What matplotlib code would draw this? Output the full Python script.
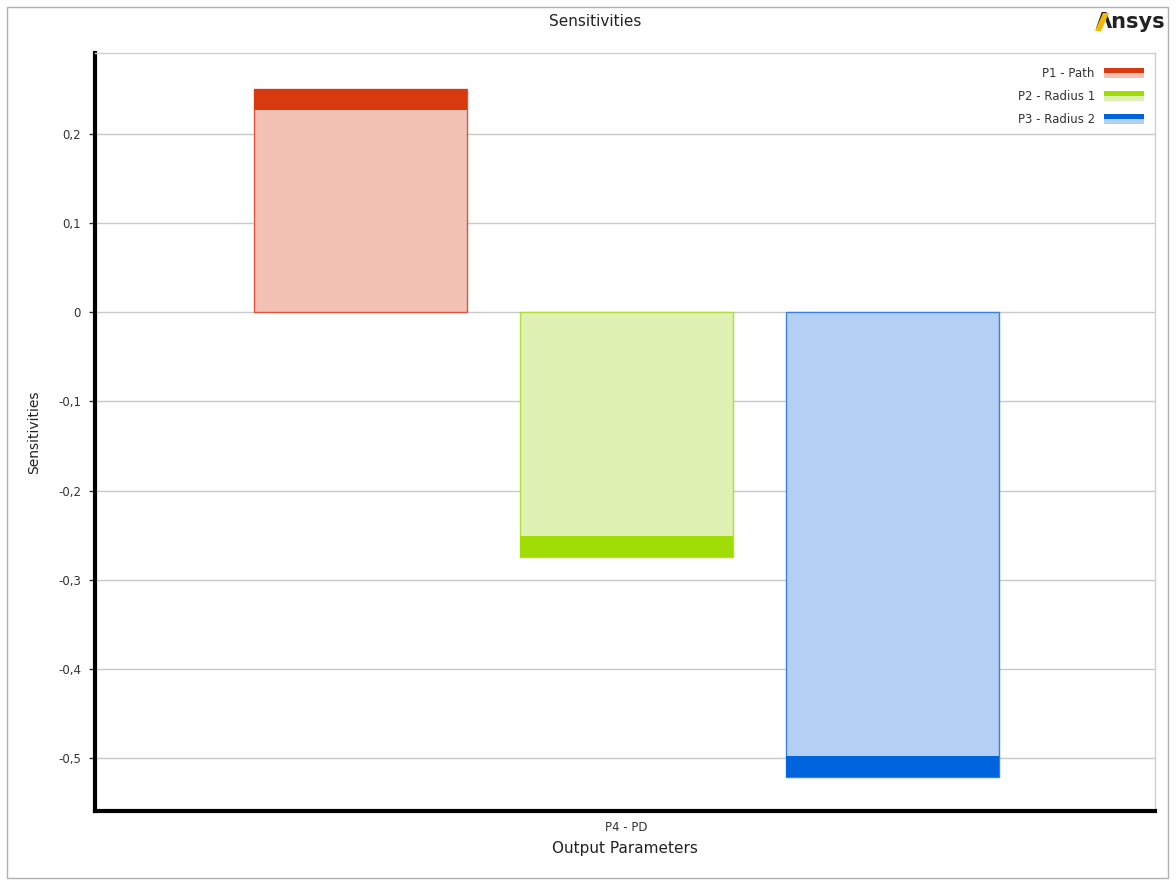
import matplotlib
matplotlib.use('Agg')
import matplotlib.pyplot as plt
from matplotlib.patches import Rectangle, Polygon
from matplotlib.legend_handler import HandlerBase
from matplotlib.ticker import FuncFormatter

# Data
parameters = ['P1 - Path', 'P2 - Radius 1', 'P3 - Radius 2']
sensitivities = [0.251, -0.275, -0.521]
output_param = 'P4 - PD'

dark_colors = ['#d9390f', '#9fdc04', '#0064dc']
light_colors = ['#f2c3b5', '#dff1b3', '#b3cff3']
edge_colors = ['#e2523a', '#b0df3a', '#3a80da']


class CapHandler(HandlerBase):
	# legend swatch: dark strip on top of a light strip
	def __init__(self, dark, light):
		super().__init__()
		self.dark = dark
		self.light = light

	def create_artists(self, legend, orig_handle, xdescent, ydescent,
					   width, height, fontsize, trans):
		h = height * 0.5
		y0 = height / 2 - h
		light = Rectangle((-xdescent, y0 - ydescent), width, h,
						  facecolor=self.light, edgecolor='none', transform=trans)
		dark = Rectangle((-xdescent, y0 + h - ydescent), width, h * 0.85,
						 facecolor=self.dark, edgecolor='none', transform=trans)
		return [light, dark]


fig = plt.figure(figsize=(11.76, 8.81), dpi=100)
ax = fig.add_axes([95/1176, 1 - 811/881, 1060/1176, 758/881])

cap = 0.0235
xpos = [-1, 0, 1]
width = 0.8
handles = []
for i, val in enumerate(sensitivities):
	ax.bar(xpos[i], val, width=width, color=light_colors[i],
		   edgecolor=edge_colors[i], linewidth=1, zorder=2)
	sign = 1 if val > 0 else -1
	ax.bar(xpos[i], sign * cap, bottom=val - sign * cap, width=width,
		   color=dark_colors[i], edgecolor='none', zorder=3)
	handles.append(Rectangle((0, 0), 1, 1))

ax.set_xlim(-1.996, 1.984)
ax.set_ylim(-0.5596, 0.291)
ax.set_xticks([0])
ax.set_xticklabels([output_param])
ax.set_yticks([-0.5, -0.4, -0.3, -0.2, -0.1, 0, 0.1, 0.2])
ax.yaxis.set_major_formatter(FuncFormatter(
	lambda v, p: '0' if abs(v) < 1e-9 else f'{v:.1f}'.replace('.', ',')))
ax.tick_params(axis='y', length=4, width=1, colors='#333333', labelsize=8.5, pad=6)
ax.tick_params(axis='x', length=0, labelsize=8.5, labelcolor='#333333', pad=7)
ax.grid(axis='y', color='#c8c8c8', linewidth=1, zorder=0)
ax.set_axisbelow(True)

for s in ['left', 'bottom']:
	ax.spines[s].set_linewidth(3)
	ax.spines[s].set_color('black')
for s in ['top', 'right']:
	ax.spines[s].set_linewidth(1)
	ax.spines[s].set_color('#cfcfcf')

ax.set_ylabel('Sensitivities', fontsize=10, color='#222222', labelpad=12)
ax.set_xlabel('Output Parameters', fontsize=11, color='#222222', labelpad=5)

leg = ax.legend(handles, parameters, loc='upper right', frameon=False,
				markerfirst=False, fontsize=8.5, handlelength=3.4,
				handleheight=1.0, labelspacing=0.85, handletextpad=0.8,
				bbox_to_anchor=(1.0, 0.996),
				handler_map={h: CapHandler(dark_colors[i], light_colors[i])
							 for i, h in enumerate(handles)})
for t in leg.get_texts():
	t.set_color('#333333')

fig.text(595/1176, 1 - 22/881, 'Sensitivities', ha='center', va='center',
		 fontsize=11, color='#222222')

# Ansys logo: black lambda + text, yellow left stroke drawn over it
fig.text(1096/1176, 1 - 22/881, 'Λnsys', ha='left', va='center',
		 fontsize=15, fontweight='bold', color='#222222')
W, H = 1176, 881
slash = [(1095, 31), (1101, 31), (1109, 13), (1103, 13)]
fig.patches.append(Polygon([(x / W, 1 - y / H) for x, y in slash],
						   closed=True, transform=fig.transFigure,
						   facecolor='#f5b800', edgecolor='none', zorder=5))

fig.patches.append(Rectangle((7/1176, 3/881), 1161/1176, 871/881,
							 transform=fig.transFigure, fill=False,
							 edgecolor='#b0b0b0', linewidth=1))

fig.savefig('out.png', dpi=100)
